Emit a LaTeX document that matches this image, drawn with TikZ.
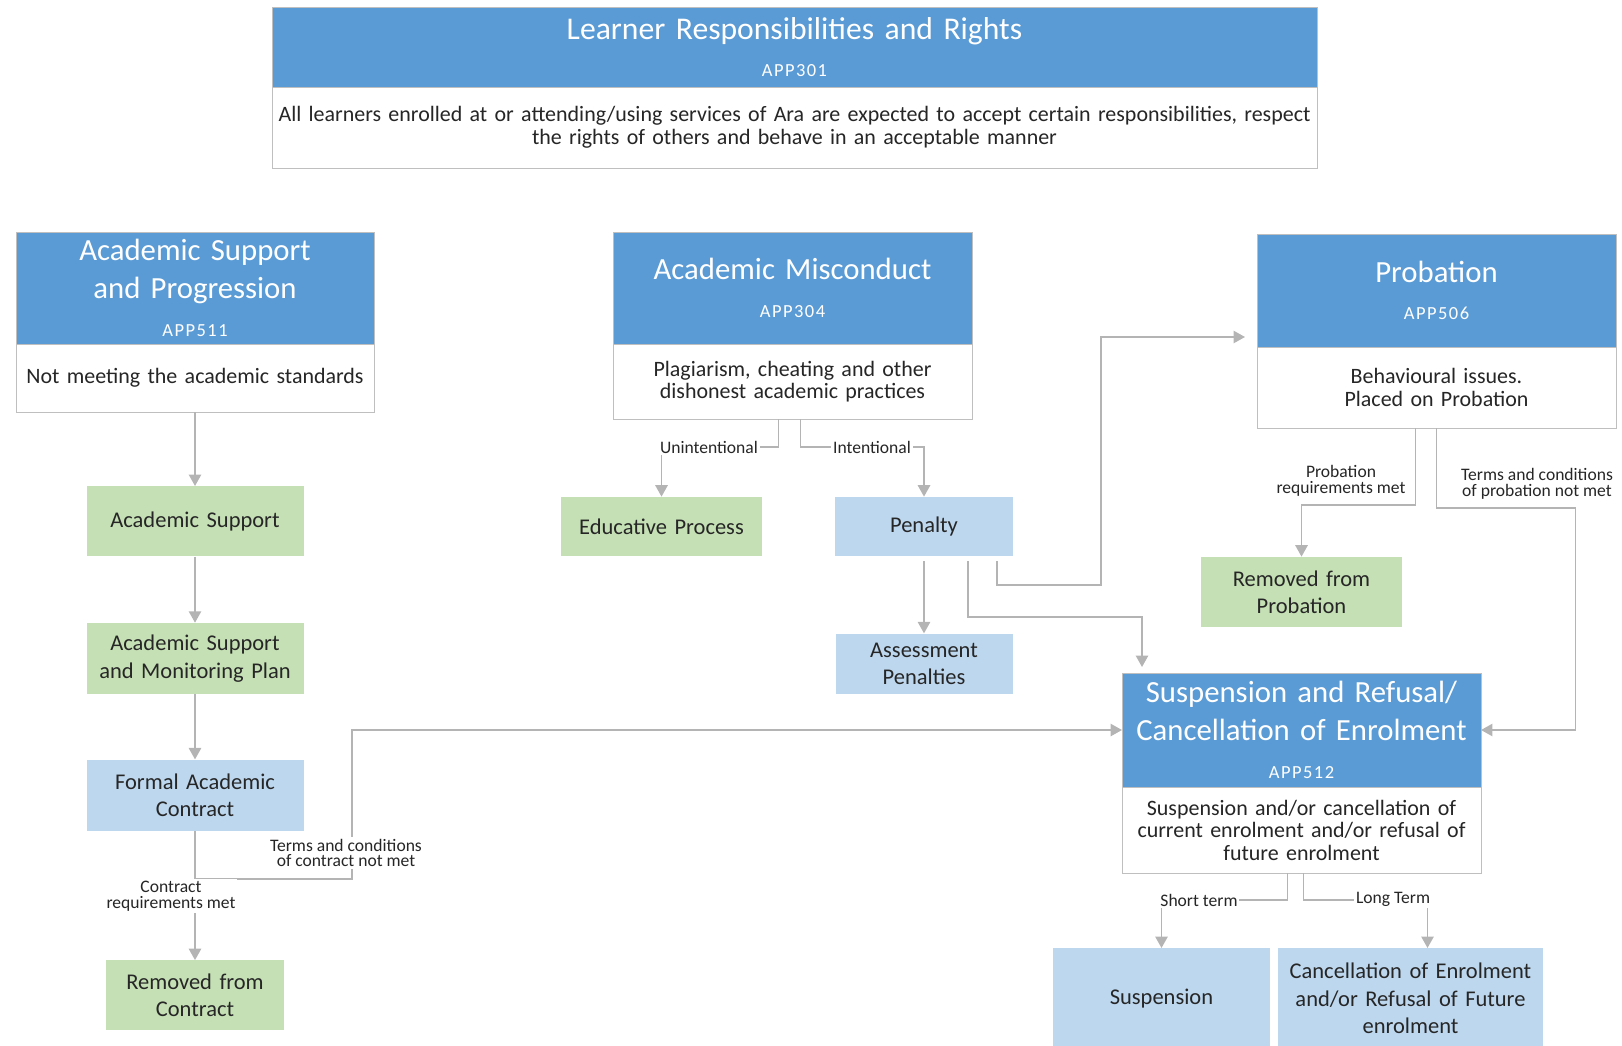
\documentclass[tikz,border=0pt]{standalone}
\usepackage{fontspec}
\setmainfont{Carlito}
\newfontfamily\appfam[LetterSpace=8]{Carlito}
\usetikzlibrary{positioning, arrows.meta}
\newlength{\px}
\setlength{\px}{0.02cm}
\definecolor{headblue}{HTML}{5B9BD5}
\definecolor{lightblue}{HTML}{BDD7EE}
\definecolor{lightgreen}{HTML}{C5E0B4}
\definecolor{boxgray}{HTML}{BFBFBF}
\definecolor{linegray}{HTML}{B4B4B4}
\definecolor{textdark}{HTML}{262626}
\newcommand{\appcode}[1]{{\appfam\fontsize{10.5}{21.5}\selectfont #1}}

\begin{document}
\begin{tikzpicture}[
    x=0.02cm, y=-0.02cm,
    head/.style={draw=boxgray, fill=headblue, text=white, align=center, inner sep=0pt, outer sep=0pt, font=\fontsize{17.5}{21.5}\selectfont},
    body/.style={draw=boxgray, fill=white, text=textdark, align=center, inner sep=0pt, outer sep=0pt, font=\fontsize{12.5}{12.8}\selectfont},
    greenbox/.style={fill=lightgreen, text=textdark, align=center, inner sep=0pt, font=\fontsize{12.8}{15.5}\selectfont},
    bluebox/.style={greenbox, fill=lightblue},
    dims/.style 2 args={text width=#1\px, minimum height=#2\px},
    conn/.style={draw=linegray, line width=1pt, -{Triangle[width=7pt, length=6.5pt]}},
    lbl/.style={fill=white, inner sep=1pt, text=textdark, align=center, font=\fontsize{10}{8.8}\selectfont}
]
    \useasboundingbox (0,0) rectangle (1622,1045);
    \clip (0,0) rectangle (1622,1045);

    % Policy boxes
    \node[head, dims={1045}{80}, anchor=north west, font=\fontsize{18}{21.5}\selectfont] (lrrhead) at (272,7) {Learner Responsibilities and Rights\\\appcode{APP301}};
    \node[body, dims={1045}{81}, below=0pt of lrrhead] (lrrbody) {All learners enrolled at or attending/using services of Ara are expected to accept certain responsibilities, respect\\the rights of others and behave in an acceptable manner};

    \node[head, dims={358}{112}, anchor=north west] (asphead) at (16,232) {Academic Support\\and Progression\\\appcode{APP511}};
    \node[body, dims={358}{68}, below=0pt of asphead] (aspbody) {Not meeting the academic standards};

    \node[head, dims={359}{112}, anchor=north west] (amhead) at (613,232) {Academic Misconduct\\\appcode{APP304}};
    \node[body, dims={359}{75}, below=0pt of amhead] (ambody) {Plagiarism, cheating and other\\dishonest academic practices};

    \node[head, dims={359}{113}, anchor=north west] (probhead) at (1257,234) {Probation\\\appcode{APP506}};
    \node[body, dims={359}{81}, below=0pt of probhead] (probbody) {Behavioural issues.\\Placed on Probation};

    \node[head, dims={359}{114}, anchor=north west] (sushead) at (1122,673) {Suspension and Refusal/\\Cancellation of Enrolment\\\appcode{APP512}};
    \node[body, dims={359}{86}, below=0pt of sushead] (susbody) {Suspension and/or cancellation of\\current enrolment and/or refusal of\\future enrolment};

    % Outcome boxes
    \node[greenbox, dims={217}{70}, below=74\px of aspbody] (asup) {Academic Support};
    \node[greenbox, dims={217}{71}, below=66\px of asup] (asmp) {Academic Support\\and Monitoring Plan};
    \node[bluebox, dims={217}{71}, below=65\px of asmp] (fac) {Formal Academic\\Contract};
    \node[greenbox, dims={178}{70}, below=129\px of fac] (rfc) {Removed from\\Contract};

    \node[greenbox, dims={201}{59}] (edu) at (661.5,526.5) {Educative Process};
    \node[bluebox, dims={178}{59}] (pen) at (924,526.5) {Penalty};
    \node[bluebox, dims={177}{60}, below=77\px of pen] (apen) {Assessment\\Penalties};

    \node[greenbox, dims={201}{70}] (rfp) at (1301.5,592) {Removed from\\Probation};
    \node[bluebox, dims={217}{100}, anchor=north] (susp) at (1161.5,948) {Suspension};
    \node[bluebox, dims={265}{100}, anchor=north] (canc) at (1410.5,948) {Cancellation of Enrolment\\and/or Refusal of Future\\enrolment};

    % Connectors
    \draw[conn] (aspbody.south) -- (asup.north);
    \draw[conn] (asup) -- (asmp);
    \draw[conn] (asmp) -- (fac);
    \draw[conn] (fac) -- (rfc);
    \draw[conn] (fac.south) -- ++(0,48) -- ++(157,0) |- (sushead.west);

    \draw[conn] ([xshift=-14\px]ambody.south) -- ++(0,28) -| (edu.north);
    \draw[conn] ([xshift=8\px]ambody.south) -- ++(0,28) -| (pen.north);
    \draw[conn, shorten <=5\px] (pen) -- (apen);
    \draw[conn, shorten <=5\px, shorten >=6\px] ([xshift=44\px]pen.south) -- ++(0,61) -| ([xshift=20\px]sushead.north west);
    \draw[conn, shorten <=5\px, shorten >=12\px] ([xshift=73\px]pen.south) -- ++(0,29) -- ++(104,0) |- ([yshift=10\px]probhead.south west);

    \draw[conn] ([xshift=-21\px]probbody.south) -- ++(0,77) -| (rfp.north);
    \draw[conn] (probbody.south) -- ++(0,80) -- ++(139,0) |- (sushead.east);

    \draw[conn] ([xshift=-14\px]susbody.south) -- ++(0,27) -| (susp.north);
    \draw[conn] ([xshift=2\px]susbody.south) -- ++(0,27) -| ([xshift=17\px]canc.north);

    % Connector labels
    \node[lbl] (lblcontract) at (171,896) {Contract\\requirements met};
    \node[lbl] (lblterms) at (346,853) {Terms and conditions\\of contract not met};
    \node[lbl] (lblunint) at (709,447) {Unintentional};
    \node[lbl] (lblint) at (872,447) {Intentional};
    \node[lbl] (lblprobmet) at (1341,481) {Probation\\requirements met};
    \node[lbl] (lblprobnot) at (1537,484) {Terms and conditions\\of probation not met};
    \node[lbl] (lblshort) at (1199,900) {Short term};
    \node[lbl] (lbllong) at (1393,899) {Long Term};
\end{tikzpicture}
\end{document}
